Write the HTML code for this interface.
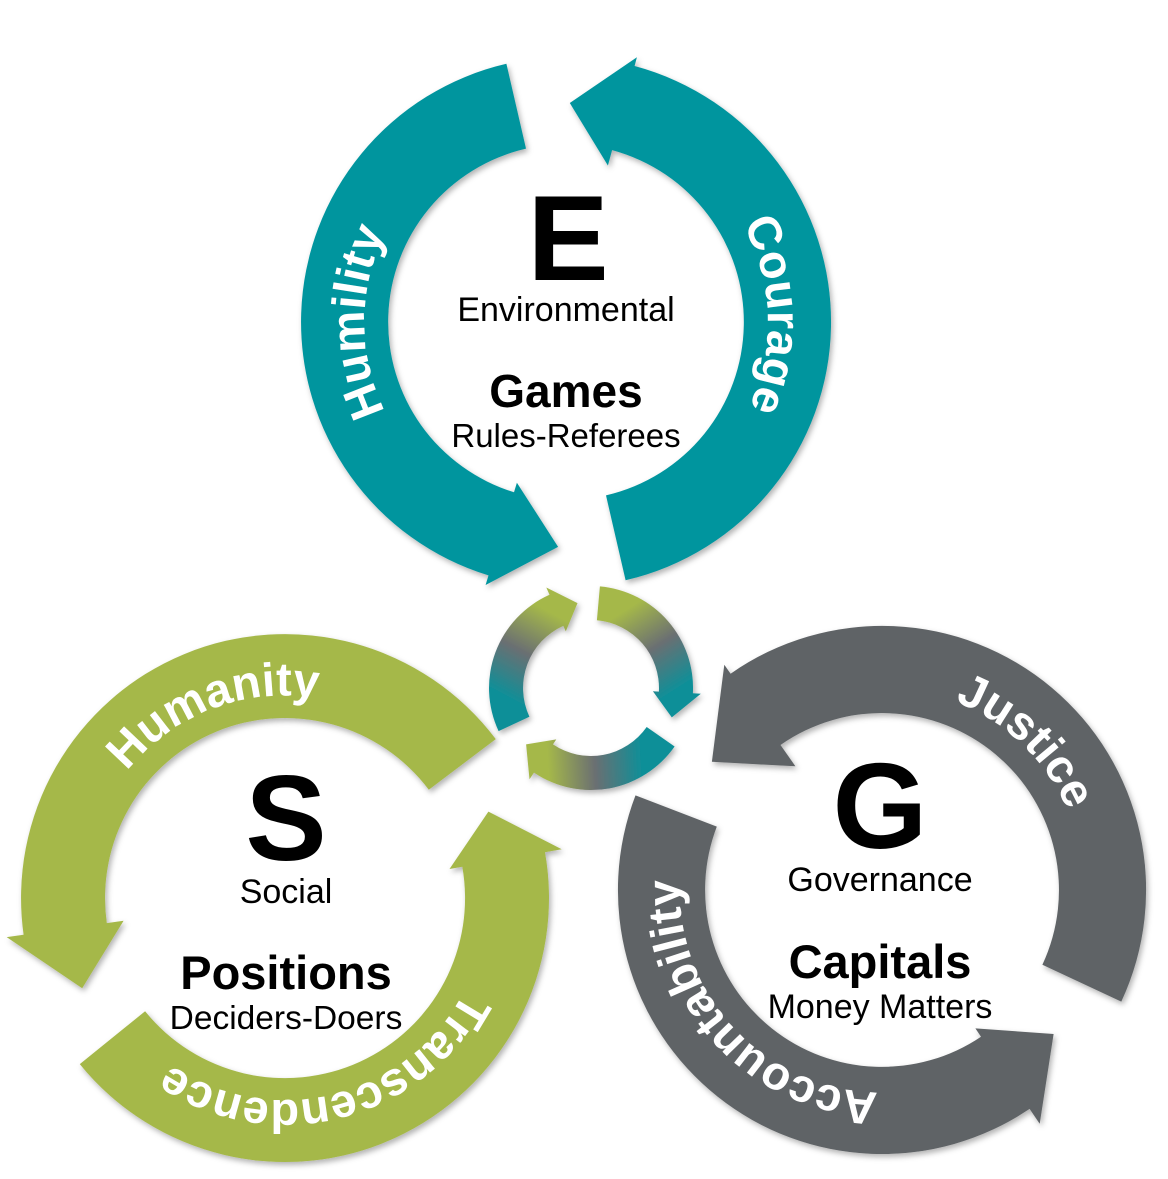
<!DOCTYPE html>
<html><head><meta charset="utf-8"><style>
html,body{margin:0;padding:0;background:#fff;}
svg{display:block;}
text{font-family:"Liberation Sans",sans-serif;}
</style></head><body>
<svg id="s" width="1168" height="1179" viewBox="0 0 1168 1179" xmlns="http://www.w3.org/2000/svg">
<defs>
<filter id="sh" x="-10%" y="-10%" width="120%" height="120%"><feDropShadow dx="2" dy="3" stdDeviation="3" flood-color="#000" flood-opacity="0.3"/></filter>
</defs>
<g id="arrows" filter="url(#sh)"></g>
<g id="labels" fill="#fff" font-weight="bold" font-size="47"></g>
<g fill="#000" text-anchor="middle">
<text x="568" y="280" font-size="122" font-weight="bold">E</text>
<text x="566" y="321" font-size="34">Environmental</text>
<text x="566" y="407" font-size="46" font-weight="bold">Games</text>
<text x="566" y="447" font-size="33">Rules-Referees</text>
<text x="286" y="860" font-size="122" font-weight="bold">S</text>
<text x="286" y="903" font-size="34">Social</text>
<text x="286" y="989" font-size="47" font-weight="bold">Positions</text>
<text x="286" y="1029" font-size="33.5">Deciders-Doers</text>
<text x="880" y="848" font-size="122" font-weight="bold">G</text>
<text x="880" y="891" font-size="34">Governance</text>
<text x="880" y="978" font-size="47" font-weight="bold">Capitals</text>
<text x="880" y="1018" font-size="34">Money Matters</text>
</g>
</svg>
<script>
var NS="http://www.w3.org/2000/svg";
function P(cx,cy,r,a){a=a*Math.PI/180;return (cx+r*Math.cos(a)).toFixed(1)+","+(cy+r*Math.sin(a)).toFixed(1);}
function arrow(cx,cy,r1,r2,tail,base,tip,rO,rI,rT){
 var dir=base>tail?1:-1, sw=dir>0?1:0, lg=Math.abs(base-tail)>180?1:0;
 return "M"+P(cx,cy,r2,tail)+" A"+r2+","+r2+" 0 "+lg+" "+sw+" "+P(cx,cy,r2,base)+
 " L"+P(cx,cy,rO,base)+" L"+P(cx,cy,rT,tip)+" L"+P(cx,cy,rI,base)+" L"+P(cx,cy,r1,base)+
 " A"+r1+","+r1+" 0 "+lg+" "+(1-sw)+" "+P(cx,cy,r1,tail)+" Z";}
var g=document.getElementById("arrows"), L=document.getElementById("labels"), defs=document.querySelector("defs");
function add(d,fill){var p=document.createElementNS(NS,"path");p.setAttribute("d",d);p.setAttribute("fill",fill);g.appendChild(p);}
var T="#00959e",GR="#a5b84a",GY="#5f6366";
add(arrow(566,322,178,265,-103,-253,-268,275,168,225),T);
add(arrow(566,322,178,265,77,-75,-89,274,162,219),T);
add(arrow(285,898,180,264,-37,-188,-204,281,163,222),GR);
add(arrow(285,898,180,264,141,-10,-23,281,167,221),GR);
add(arrow(882,890,177,264,25,-125,-143,275,151,213),GY);
add(arrow(882,890,177,264,201,56,40,282,167,224),GY);
var C=[[155,246,261,"#0f8f98","#a5b84a"],[-85,3,20,"#a5b84a","#0f8f98"],[35,124,139,"#0f8f98","#a5b84a"]];
C.forEach(function(c,i){
 var cx=591,cy=688;
 var lg=document.createElementNS(NS,"linearGradient");lg.setAttribute("id","cg"+i);lg.setAttribute("gradientUnits","userSpaceOnUse");
 var a=P(cx,cy,85,c[0]).split(","),b=P(cx,cy,85,c[2]).split(",");
 lg.setAttribute("x1",a[0]);lg.setAttribute("y1",a[1]);lg.setAttribute("x2",b[0]);lg.setAttribute("y2",b[1]);
 lg.innerHTML='<stop offset="0.15" stop-color="'+c[3]+'"/><stop offset="0.5" stop-color="#6a6f72"/><stop offset="0.85" stop-color="'+c[4]+'"/>';
 defs.appendChild(lg);
 add(arrow(cx,cy,68,102,c[0],c[1],c[2],110,62,86),"url(#cg"+i+")");
});
var labs=[[566,322,180,"Humility"],[566,322,-2,"Courage"],[285,898,249,"Humanity"],[285,898,76,"Transcendence"],[882,890,-46,"Justice"],[882,890,137,"Accountability"]];
labs.forEach(function(l,i){
 var r=202,cx=l[0],cy=l[1],a=l[2];
 var p=document.createElementNS(NS,"path");p.setAttribute("id","lp"+i);p.setAttribute("fill","none");
 p.setAttribute("d","M"+P(cx,cy,r,a-85)+" A"+r+","+r+" 0 0 1 "+P(cx,cy,r,a+85));
 defs.appendChild(p);
 var t=document.createElementNS(NS,"text");t.setAttribute("text-anchor","middle");
 var tp=document.createElementNS(NS,"textPath");tp.setAttribute("href","#lp"+i);tp.setAttribute("startOffset","50%");tp.textContent=l[3];
 t.appendChild(tp);L.appendChild(t);
});
</script>
</body></html>
